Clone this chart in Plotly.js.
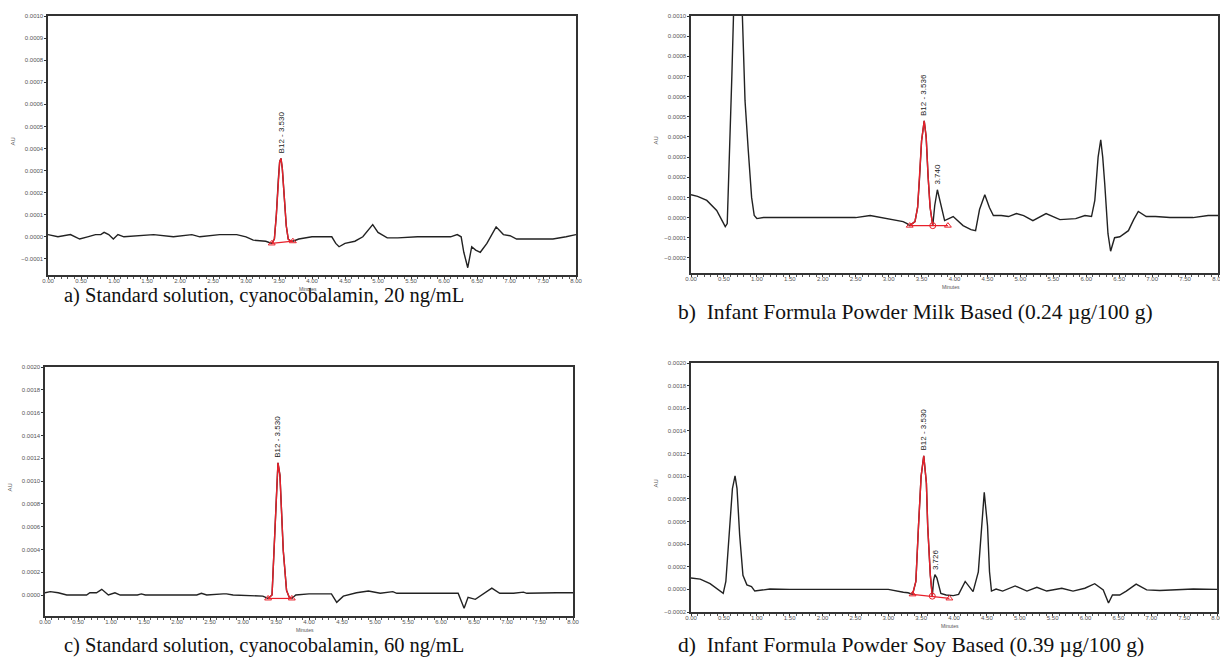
<!DOCTYPE html>
<html>
<head>
<meta charset="utf-8">
<script src="https://cdn.plot.ly/plotly-3.0.1.min.js"></script>
<style>html,body{margin:0;padding:0;background:#fff}#chart{width:1220px;height:658px}</style>
</head>
<body>
<div id="chart"></div>
<script>
// ---------- Panel a: Standard solution 20 ng/mL ----------
const aPreT  = [0, 0.15, 0.34, 0.42, 0.48, 0.6, 0.72, 0.8, 0.85, 0.92, 0.99, 1.06, 1.15, 1.6, 1.9, 2.18, 2.3, 2.6, 2.86, 3.0, 3.11, 3.3];
const aPreAU = [0.00001, 0, 0.00001, 0, -0.00001, 0, 0.00001, 0.00001, 0.00002, 0.00001, -0.00001, 0.00001, 0, 0.00001, 0, 0.00001, 0, 0.00001, 0.00001, 0, -0.000015, -0.00002];
const aPeakT  = [3.39, 3.43, 3.46, 3.49, 3.51, 3.53, 3.55, 3.58, 3.61, 3.64, 3.68, 3.71];
const aPeakAU = [-0.00003, -0.00001, 0.0001, 0.00026, 0.00034, 0.000355, 0.00031, 0.00018, 0.00005, -0.00001, -0.00002, -0.00002];
const aPostT  = [3.8, 4.0, 4.2, 4.3, 4.36, 4.41, 4.5, 4.65, 4.77, 4.92, 5.0, 5.14, 5.3, 5.6, 5.9, 6.1, 6.2, 6.26, 6.3, 6.36, 6.42, 6.48, 6.55, 6.65, 6.79, 6.9, 7.0, 7.1, 7.35, 7.65, 7.85, 8.0];
const aPostAU = [-0.00001, 0, 0, 0, -0.00003, -0.000045, -0.00003, -0.00002, 0, 0.000055, 0.00002, -0.000005, -0.000005, 0, 0, 0, 0.00001, 0, -0.00007, -0.00014, -0.000045, -0.00006, -0.00007, -0.00003, 0.000045, 0.00001, 0.000005, -0.00001, -0.00001, -0.00001, 0, 0.00001];
const aBaseT  = [3.39, 3.71];
const aBaseAU = [-0.00003, -0.00002];

// ---------- Panel b: Milk based ----------
const bPreT  = [0, 0.1, 0.24, 0.39, 0.48, 0.52, 0.55, 0.58, 0.62, 0.645, 0.68, 0.71, 0.745, 0.78, 0.82, 0.87, 0.92, 0.96, 1.0, 1.1, 1.25, 1.5, 2.0, 2.5, 2.72, 2.9, 3.1, 3.22, 3.28];
const bPreAU = [0.000113, 0.000105, 0.000085, 0.000035, -0.00002, -0.000045, -0.00003, 0.00025, 0.0007, 0.001, 0.0016, 0.0018, 0.0016, 0.001, 0.00058, 0.00033, 0.0001, 0.00001, -0.000005, 0, 0, 0, 0, 0, 0.00001, 0, -0.00001, -0.00002, -0.00003];
const bPeakT  = [3.32, 3.40, 3.44, 3.47, 3.50, 3.54, 3.57, 3.60, 3.63, 3.67];
const bPeakAU = [-0.00004, -0.00002, 0.00005, 0.0002, 0.00038, 0.00048, 0.0004, 0.0002, 0.00005, -0.00004];
const bPostT  = [3.70, 3.74, 3.78, 3.85, 3.98, 4.13, 4.25, 4.32, 4.38, 4.46, 4.53, 4.59, 4.71, 4.82, 4.94, 5.05, 5.19, 5.39, 5.6, 5.84, 5.98, 6.08, 6.13, 6.18, 6.22, 6.25, 6.28, 6.33, 6.37, 6.43, 6.51, 6.64, 6.72, 6.79, 6.91, 7.05, 7.27, 7.62, 7.85, 8.0];
const bPostAU = [0.00006, 0.000138, 0.00008, -0.000015, 0.000005, -0.00004, -0.00006, -0.000065, 0.00004, 0.000113, 0.00005, 0.00001, 0.00001, 0.000005, 0.00002, 0.00001, -0.000015, 0.00002, -0.00001, -0.000005, 0.00001, 0.000005, 0.000085, 0.0003, 0.000386, 0.0003, 0.00017, -0.00008, -0.000167, -0.0001, -0.000095, -0.000065, -0.00001, 0.00003, 0.000005, 0.000005, 0, 0, 0.00001, 0.00001];
const bBaseT  = [3.32, 3.67, 3.90];
const bBaseAU = [-0.00004, -0.00004, -0.00004];

// ---------- Panel c: Standard solution 60 ng/mL ----------
const cPreT  = [0, 0.08, 0.2, 0.33, 0.5, 0.63, 0.68, 0.78, 0.86, 0.96, 1.06, 1.14, 1.4, 1.46, 1.52, 2.0, 2.3, 2.37, 2.45, 2.7, 2.75, 2.85, 3.13, 3.3];
const cPreAU = [0.00002, 0.00003, 0.00002, 0, 0, 0, 0.00002, 0.00002, 0.00005, 0, 0.00002, 0, 0, 0.00001, 0, 0, 0, 0.000015, 0, 0.00001, 0.00001, 0, -0.00001, -0.00001];
const cPeakT  = [3.38, 3.44, 3.47, 3.50, 3.53, 3.56, 3.58, 3.61, 3.66, 3.70, 3.74];
const cPeakAU = [-0.00003, 0, 0.00039, 0.00083, 0.00116, 0.00105, 0.00083, 0.00039, 0.00004, -0.00002, -0.00003];
const cPostT  = [3.8, 4.0, 4.2, 4.34, 4.42, 4.52, 4.72, 4.9, 5.08, 5.27, 5.33, 5.6, 6.03, 6.26, 6.35, 6.41, 6.52, 6.62, 6.77, 6.89, 7.1, 7.25, 7.3, 7.75, 8.0];
const cPostAU = [0, 0.00001, 0.00001, 0.00001, -0.000064, -0.00001, 0.00002, 0.000035, 0.000015, 0.00003, 0.000015, 0.000015, 0.000015, 0.000015, -0.000117, -0.00002, -0.000038, 0, 0.00006, 0.000015, 0.000015, 0.000025, 0.000015, 0.00002, 0.00002];
const cBaseT  = [3.38, 3.74];
const cBaseAU = [-0.00003, -0.00003];

// ---------- Panel d: Soy based ----------
const dPreT  = [0, 0.14, 0.29, 0.42, 0.49, 0.53, 0.58, 0.63, 0.67, 0.70, 0.74, 0.79, 0.85, 0.92, 0.97, 1.2, 1.5, 2.0, 2.5, 3.0, 3.23, 3.3];
const dPreAU = [0.0001, 0.00009, 0.00005, -0.00001, -0.000035, 0.00007, 0.00048, 0.00089, 0.001003, 0.00089, 0.00048, 0.000125, 0.00004, 0.000025, -0.000015, 0.000003, 0, 0, 0, 0, -0.000026, -0.00003];
const dPeakT  = [3.37, 3.42, 3.46, 3.50, 3.54, 3.58, 3.60, 3.64, 3.67];
const dPeakAU = [-0.000044, 0.00007, 0.00056, 0.001, 0.00118, 0.00094, 0.00056, 0.000125, -0.00006];
const dPostT  = [3.69, 3.71, 3.74, 3.80, 3.88, 3.99, 4.07, 4.17, 4.29, 4.37, 4.42, 4.46, 4.51, 4.54, 4.57, 4.64, 4.74, 4.93, 5.11, 5.26, 5.41, 5.64, 5.81, 5.99, 6.14, 6.27, 6.35, 6.41, 6.52, 6.62, 6.77, 6.93, 7.13, 7.64, 8.0];
const dPostAU = [0.00008, 0.00013, 0.0001, -0.000035, -0.00005, -0.000055, -0.000044, 0.00007, -0.00002, 0.000155, 0.00056, 0.000857, 0.00056, 0.000155, -0.000015, 0.000003, -0.000015, 0.00003, -0.000015, 0.000018, -0.000015, 0.00001, -0.000015, 0.00001, 0.00005, -0.000005, -0.00012, -0.00005, -0.00005, -0.000015, 0.000046, -0.000005, -0.00001, 0.000003, 0];
const dBaseT  = [3.37, 3.67, 3.93];
const dBaseAU = [-0.000044, -0.00006, -0.00008];

// ---------- Texts ----------
const captions = [
  "a) Standard solution, cyanocobalamin, 20 ng/mL",
  "b)  Infant Formula Powder Milk Based (0.24 \u00b5g/100 g)",
  "c) Standard solution, cyanocobalamin, 60 ng/mL",
  "d)  Infant Formula Powder Soy Based (0.39 \u00b5g/100 g)"
];
const peakLabels = [
  {panel: 0, t: 3.53, au: 0.000355, text: "B12 - 3.530"},
  {panel: 1, t: 3.54, au: 0.00048, text: "B12 - 3.536"},
  {panel: 1, t: 3.74, au: 0.000138, text: "3.740"},
  {panel: 2, t: 3.53, au: 0.00116, text: "B12 - 3.530"},
  {panel: 3, t: 3.54, au: 0.00118, text: "B12 - 3.530"},
  {panel: 3, t: 3.71, au: 0.00013, text: "3.726"}
];
const yRanges = [[-0.000173, 0.0010], [-0.000275, 0.0010], [-0.000184, 0.0020], [-0.0002, 0.0020]];
const yDticks = [0.0001, 0.0001, 0.0002, 0.0002];

// ---------- Layout geometry (pixels) ----------
const W = 1220, H = 658;
const boxes = [ // [left, right, top, bottom]
  [48, 576, 16, 275],
  [691, 1218, 16, 273],
  [45, 573, 367, 616],
  [691, 1217, 363, 612]
];
const captionPos = [[62, 296, 20.5], [676, 312, 21.5], [62, 645, 20.5], [676, 645, 21.5]];

const panels = [
  [aPreT, aPreAU, aPeakT, aPeakAU, aPostT, aPostAU, aBaseT, aBaseAU],
  [bPreT, bPreAU, bPeakT, bPeakAU, bPostT, bPostAU, bBaseT, bBaseAU],
  [cPreT, cPreAU, cPeakT, cPeakAU, cPostT, cPostAU, cBaseT, cBaseAU],
  [dPreT, dPreAU, dPeakT, dPeakAU, dPostT, dPostAU, dBaseT, dBaseAU]
];

const traces = [];
const layout = {
  width: W, height: H,
  margin: {l: 0, r: 0, t: 0, b: 0},
  paper_bgcolor: '#ffffff', plot_bgcolor: '#ffffff',
  showlegend: false,
  font: {family: 'Liberation Sans, Arial, sans-serif', color: '#333'},
  annotations: []
};

panels.forEach((p, i) => {
  const [preT, preAU, pkT, pkAU, postT, postAU, baseT, baseAU] = p;
  const sfx = i === 0 ? '' : String(i + 1);
  const xa = 'x' + sfx, ya = 'y' + sfx;
  const bx = boxes[i];
  traces.push({
    type: 'scatter', mode: 'lines', xaxis: xa, yaxis: ya,
    x: preT.concat(pkT, postT), y: preAU.concat(pkAU, postAU),
    line: {color: '#222', width: 1.4}, hoverinfo: 'skip'
  });
  traces.push({
    type: 'scatter', mode: 'lines', xaxis: xa, yaxis: ya,
    x: pkT, y: pkAU, line: {color: '#e8202a', width: 1.4}, hoverinfo: 'skip'
  });
  const syms = baseT.map((_, k) => (k === 0 || k === baseT.length - 1) ? 'triangle-up-open' : 'circle-open');
  traces.push({
    type: 'scatter', mode: 'lines+markers', xaxis: xa, yaxis: ya,
    x: baseT, y: baseAU, line: {color: '#e8202a', width: 1.2},
    marker: {symbol: syms, size: 6, color: '#e8202a', line: {color: '#e8202a', width: 1}},
    hoverinfo: 'skip'
  });

  layout['xaxis' + sfx] = {
    domain: [bx[0] / W, bx[1] / W], anchor: ya,
    range: [0, 8], dtick: 0.5, tick0: 0, tickformat: '.2f',
    ticks: 'outside', ticklen: 2, tickwidth: 1, tickcolor: '#333',
    ticklabelstandoff: -3, ticklabeloverflow: 'allow',
    minor: {dtick: 0.1, ticks: 'outside', ticklen: 2, tickcolor: '#555', showgrid: false},
    showline: true, mirror: true, linecolor: '#333', linewidth: 1.6,
    showgrid: false, zeroline: false, fixedrange: true,
    tickfont: {size: 6, color: '#555', family: 'Liberation Sans, Arial, sans-serif'}
  };
  layout['yaxis' + sfx] = {
    domain: [1 - bx[3] / H, 1 - bx[2] / H], anchor: xa,
    range: yRanges[i], dtick: yDticks[i], tick0: 0, tickformat: '.4f',
    ticks: 'outside', ticklen: 2, tickwidth: 1, tickcolor: '#333',
    ticklabeloverflow: 'allow',
    showline: true, mirror: true, linecolor: '#333', linewidth: 1.6,
    showgrid: false, zeroline: false, fixedrange: true,
    tickfont: {size: 6, color: '#555', family: 'Liberation Sans, Arial, sans-serif'}
  };

  layout.annotations.push({
    xref: 'paper', yref: 'paper', x: captionPos[i][0] / W, y: 1 - captionPos[i][1] / H,
    xanchor: 'left', yanchor: 'middle', showarrow: false, text: captions[i],
    font: {family: 'Liberation Serif, Times New Roman, serif', size: captionPos[i][2], color: '#111'}
  });
  layout.annotations.push({
    xref: 'paper', yref: 'paper', x: (bx[0] - 36) / W, y: 1 - ((bx[2] + bx[3]) / 2 - 4) / H,
    xanchor: 'center', yanchor: 'middle', showarrow: false, text: 'AU', textangle: -90,
    font: {size: 6, color: '#555'}
  });
  layout.annotations.push({
    xref: 'paper', yref: 'paper', x: ((bx[0] + bx[1]) / 2 - 4) / W, y: 1 - (bx[3] + 14) / H,
    xanchor: 'center', yanchor: 'middle', showarrow: false, text: 'Minutes',
    font: {size: 5, color: '#555'}
  });
});

peakLabels.forEach(pl => {
  const sfx = pl.panel === 0 ? '' : String(pl.panel + 1);
  layout.annotations.push({
    xref: 'x' + sfx, yref: 'y' + sfx, x: pl.t, y: pl.au,
    text: pl.text, textangle: -90, showarrow: false,
    xanchor: 'center', yanchor: 'bottom', yshift: 3,
    font: {size: 8, color: '#222', family: 'Liberation Sans, Arial, sans-serif'}
  });
});

Plotly.newPlot('chart', traces, layout, {staticPlot: true, displayModeBar: false});
</script>
</body>
</html>
